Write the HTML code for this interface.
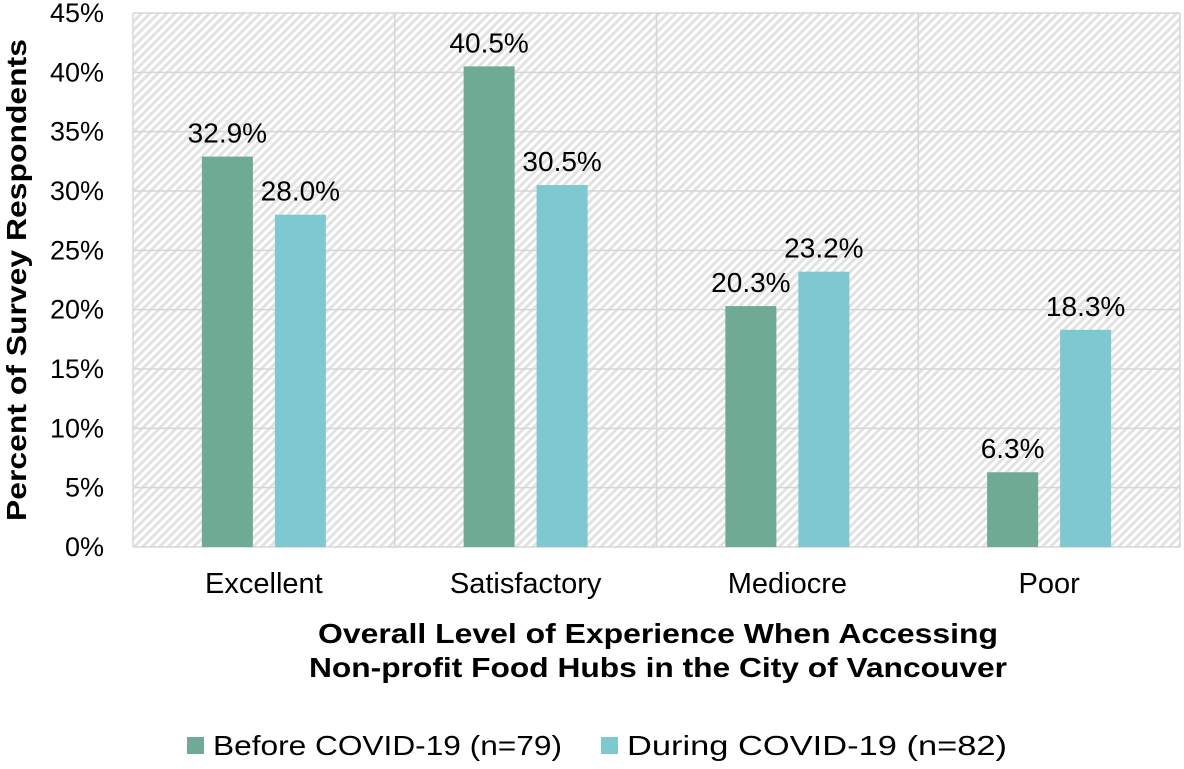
<!DOCTYPE html>
<html><head><meta charset="utf-8"><style>
html,body{margin:0;padding:0;background:#fff;}
svg text{font-family:"Liberation Sans",Arial,sans-serif;fill:#000;}
</style></head><body>
<svg id="chart" width="1184" height="764" viewBox="0 0 1184 764" xmlns="http://www.w3.org/2000/svg">
<defs>
<pattern id="hatch" patternUnits="userSpaceOnUse" width="6" height="6" patternTransform="rotate(45)">
<rect width="6" height="6" fill="#ffffff"/>
<rect width="3" height="6" fill="#e2e2e2"/>
</pattern>
</defs>
</svg>
<script>
const categories = ["Excellent","Satisfactory","Mediocre","Poor"];
const beforeVals = [32.9,40.5,20.3,6.3];
const duringVals = [28.0,30.5,23.2,18.3];
const yTicks = [0,5,10,15,20,25,30,35,40,45];
const seriesNames = ["Before COVID-19 (n=79)","During COVID-19 (n=82)"];

const NS="http://www.w3.org/2000/svg";
const svg=document.getElementById('chart');
const L=133,R=1180,T=13,B=547,yMax=45;
const y=v=>B-(v/yMax)*(B-T);
const cw=(R-L)/categories.length;
const xc=i=>L+cw*(i+0.5);
function mk(tag,attrs,parent){const e=document.createElementNS(NS,tag);for(const k in attrs)e.setAttribute(k,attrs[k]);(parent||svg).appendChild(e);return e;}

const bg=mk('rect',{x:L,y:T,width:R-L,height:B-T,fill:'url(#hatch)'});



yTicks.forEach(t=>{
  const g=mk('line',{x1:L,x2:R,y1:y(t),y2:y(t),stroke:'#d6d6d6','stroke-width':1.5});
  
  
  const tx=mk('text',{x:104,y:y(t)+9,'text-anchor':'end','font-size':27});
  tx.textContent=t+'%';
  
  
});
for(let i=0;i<=categories.length;i++){
  const v=mk('line',{x1:L+cw*i,x2:L+cw*i,y1:T,y2:B,stroke:'#d6d6d6','stroke-width':1.5});
  
  
}
const bw=51,off=36.5;
categories.forEach((c,i)=>{
  [[beforeVals,'#6fab94',-off,'bar-before'],[duringVals,'#7ec9d0',off,'bar-during']].forEach(([arr,col,o,nm])=>{
    const v=arr[i];
    const r=mk('rect',{x:xc(i)+o-bw/2,y:y(v),width:bw,height:B-y(v),fill:col});
    
    
    const t=mk('text',{x:xc(i)+o,y:y(v)-14,'text-anchor':'middle','font-size':28});
    t.textContent=v.toFixed(1)+'%';
    
    
  });
  const ct=mk('text',{x:xc(i),y:593,'text-anchor':'middle','font-size':29});
  ct.textContent=c;
  
  
});
const xt1=mk('text',{x:658,y:643,'text-anchor':'middle','font-size':28,'font-weight':'bold',textLength:680,lengthAdjust:'spacingAndGlyphs'});
xt1.textContent='Overall Level of Experience When Accessing';


const xt2=mk('text',{x:658,y:677,'text-anchor':'middle','font-size':28,'font-weight':'bold',textLength:698,lengthAdjust:'spacingAndGlyphs'});
xt2.textContent='Non-profit Food Hubs in the City of Vancouver';


const yt=mk('text',{x:0,y:0,'text-anchor':'middle','font-size':28,'font-weight':'bold',textLength:482,lengthAdjust:'spacingAndGlyphs',transform:'translate(26,280) rotate(-90)'});
yt.textContent='Percent of Survey Respondents';



[[187,'#6fab94',0,349],[601,'#7ec9d0',1,380]].forEach(([x,col,i,w])=>{
  const s=mk('rect',{x:x,y:737,width:17,height:17,fill:col});
  
  
  const t=mk('text',{x:x+26,y:755,'font-size':28,textLength:w,lengthAdjust:'spacingAndGlyphs'});
  t.textContent=seriesNames[i];
  
  
});
</script>
</body></html>
